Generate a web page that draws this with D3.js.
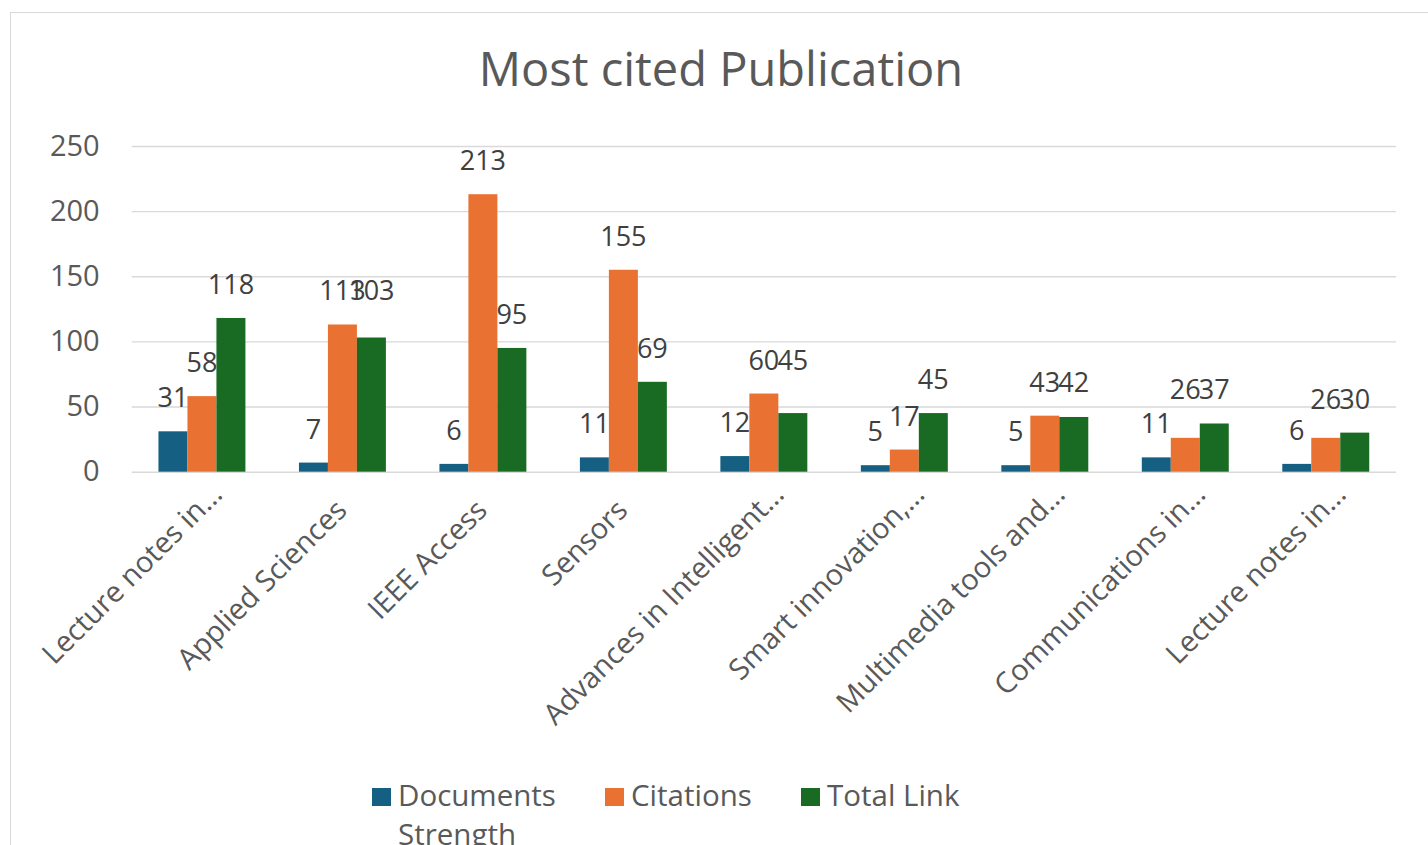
<!DOCTYPE html>
<html><head><meta charset="utf-8">
<script src="https://cdn.jsdelivr.net/npm/d3@7"></script>
<style>body{margin:0;background:#fff;} svg{display:block}</style>
</head><body><svg id="c" width="1428" height="845"></svg>
<script>
const categories = ["Lecture notes in…","Applied Sciences","IEEE Access","Sensors","Advances in Intelligent…","Smart innovation,…","Multimedia tools and…","Communications in…","Lecture notes in…"];
const documents = [31,7,6,11,12,5,5,11,6];
const citations = [58,113,213,155,60,17,43,26,26];
const totalLink = [118,103,95,69,45,45,42,37,30];
const legendLines = [["Documents","Strength"],["Citations"],["Total Link"]];
const colors = ["#156082","#E97132","#196B24"];
const yTicks = [0,50,100,150,200,250];
const title = "Most cited Publication";

const series = [documents, citations, totalLink];
const svg = d3.select("#c");
const textCol = "#595959";
const font = "'Open Sans', sans-serif";

// frame
svg.append("rect").attr("x",10.5).attr("y",12.5).attr("width",1500).attr("height",1000)
  .attr("fill","#fff").attr("stroke","#d9d9d9").attr("stroke-width",1);

const plotL = 131.7, plotR = 1396, plotT = 146, plotB = 471.7;
const x0 = d3.scaleBand().domain(d3.range(categories.length)).range([plotL, plotR])
  .paddingInner(0.381).paddingOuter(0.1905);
const x1 = d3.scaleBand().domain(d3.range(series.length)).range([0, x0.bandwidth()]);
const y = d3.scaleLinear().domain([0,250]).range([plotB, plotT]);

// title
svg.append("text").attr("x",721).attr("y",86).attr("text-anchor","middle")
  .attr("font-family",font).attr("font-size",47).attr("fill",textCol).text(title);

// gridlines + y axis
const yAxis = d3.axisLeft(y).tickValues(yTicks).tickSize(-(plotR-plotL)).tickPadding(32);
const gy = svg.append("g").attr("transform",`translate(${plotL},0)`).call(yAxis);
gy.select(".domain").remove();
gy.selectAll(".tick line").attr("stroke","#d9d9d9").attr("stroke-width",1.4);
gy.selectAll(".tick text").attr("font-family",font).attr("font-size",29).attr("fill",textCol);

// bars
const groups = svg.append("g").selectAll("g").data(categories).join("g")
  .attr("transform",(d,i)=>`translate(${x0(i)},0)`);
groups.selectAll("rect").data((d,i)=>series.map((s,k)=>({k, v:s[i]}))).join("rect")
  .attr("x",d=>x1(d.k)).attr("width",x1.bandwidth())
  .attr("y",d=>y(d.v)).attr("height",d=>y(0)-y(d.v))
  .attr("fill",d=>colors[d.k]);

// data labels
const labelGap = 24, labelH = 22;
const labels = [];
categories.forEach((c,i)=>{
  const base = series.map((s,k)=>y(s[i]) - labelGap);
  // colliding citations / total link labels share one line
  if (Math.abs(base[1]-base[2]) < labelH) { const m = Math.min(base[1],base[2]); base[1]=m; base[2]=m; }
  series.forEach((s,k)=>labels.push({i,k,v:s[i],yb:base[k]}));
});
svg.append("g").selectAll("text").data(labels).join("text")
  .attr("x",d=>x0(d.i)+x1(d.k)+x1.bandwidth()/2).attr("y",d=>d.yb)
  .attr("text-anchor","middle").attr("font-family",font)
  .attr("font-size",27).attr("fill","#404040").text(d=>d.v);

// x labels (the ellipsis of truncated labels overflows past the anchor)
const xl = svg.append("g").selectAll("g").data(categories).join("g")
  .attr("transform",(d,i)=>`translate(${x0(i)+x0.bandwidth()/2+6},512) rotate(-45)`)
  .attr("font-family",font).attr("font-size",29).attr("fill",textCol);
xl.append("text").attr("text-anchor","end").text(d=>d.endsWith("…") ? d.slice(0,-1) : d);
xl.filter(d=>d.endsWith("…")).append("text").attr("text-anchor","start").text("…");

// legend
const legX = [372, 605, 801];
const leg = svg.append("g").selectAll("g").data(legendLines).join("g")
  .attr("transform",(d,i)=>`translate(${legX[i]},788)`);
leg.append("rect").attr("width",19).attr("height",18).attr("fill",(d,i)=>colors[i]);
leg.append("text").attr("font-family",font).attr("font-size",29.5).attr("fill",textCol)
  .selectAll("tspan").data(d=>d).join("tspan").attr("x",26).attr("y",(d,j)=>18+j*39).text(d=>d);
</script></body></html>
